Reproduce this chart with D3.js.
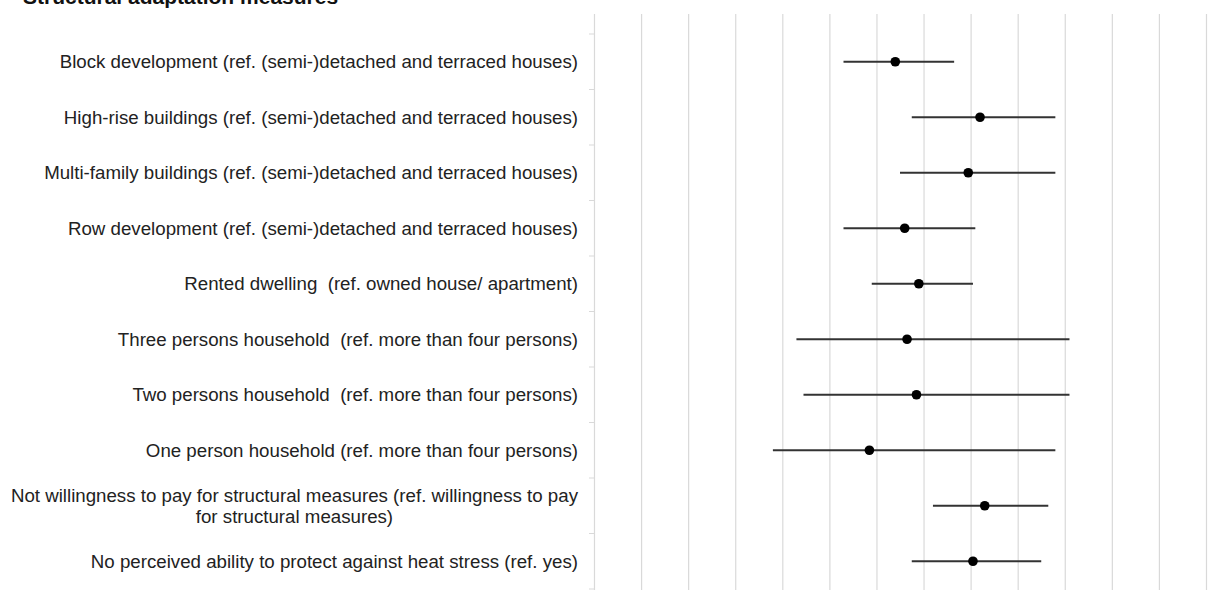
<!DOCTYPE html>
<html>
<head>
<meta charset="utf-8">
<script src="https://cdn.jsdelivr.net/npm/d3@7"></script>
<style>
  body { margin: 0; background: #fff; }
  svg { display: block; font-family: "Liberation Sans", Arial, sans-serif; }
  text { white-space: pre; }
</style>
</head>
<body>
<script>
// categories, top to bottom
const labels = [
  "Block development (ref. (semi-)detached and terraced houses)",
  "High-rise buildings (ref. (semi-)detached and terraced houses)",
  "Multi-family buildings (ref. (semi-)detached and terraced houses)",
  "Row development (ref. (semi-)detached and terraced houses)",
  "Rented dwelling  (ref. owned house/ apartment)",
  "Three persons household  (ref. more than four persons)",
  "Two persons household  (ref. more than four persons)",
  "One person household (ref. more than four persons)",
  "Not willingness to pay for structural measures (ref. willingness to pay|for structural measures)",
  "No perceived ability to protect against heat stress (ref. yes)"
];
// estimates and confidence bounds
const estimates = [1.28, 1.64, 1.59, 1.32, 1.38, 1.33, 1.37, 1.17, 1.66, 1.61];
const lower     = [1.06, 1.35, 1.30, 1.06, 1.18, 0.86, 0.89, 0.76, 1.44, 1.35];
const upper     = [1.53, 1.96, 1.96, 1.62, 1.61, 2.02, 2.02, 1.96, 1.93, 1.90];
const gridTicks = d3.range(0, 2.61, 0.2);
const title = "Structural adaptation measures";

const W = 1217, H = 590;
const svg = d3.select("body").append("svg").attr("width", W).attr("height", H);

const x = d3.scaleLinear().domain([0, 2.6]).range([594, 1206]);
const y = d3.scaleBand().domain(labels).range([34, 589]).padding(0);

// title (cut off at the top edge, as in the source)
svg.append("text")
  .attr("x", 23).attr("y", 4)
  .attr("font-size", 21).attr("font-weight", "bold")
  .attr("fill", "#111")
  .text(title);

// vertical gridlines
const grid = svg.append("g").attr("transform", "translate(0,14)")
  .call(d3.axisTop(x).tickValues(gridTicks).tickSize(-(H - 14)).tickFormat(""));
grid.select(".domain").remove();
grid.selectAll(".tick line").attr("stroke", "#d9d9d9").attr("stroke-width", 1.2);

// small ticks on the category axis, at band edges
const edges = labels.map(d => y(d)).concat([y.range()[1]]);
svg.append("g").selectAll("line").data(edges).enter().append("line")
  .attr("x1", x(0) - 5).attr("x2", x(0))
  .attr("y1", d => d).attr("y2", d => d)
  .attr("stroke", "#d9d9d9").attr("stroke-width", 1);

// category labels
const lab = svg.append("g").attr("font-size", 18.7).attr("fill", "#222");
labels.forEach((d, i) => {
  const cy = y(d) + y.bandwidth() / 2;
  const parts = d.split("|");
  if (parts.length === 1) {
    lab.append("text").attr("x", 578).attr("y", cy).attr("dy", "0.35em")
      .attr("text-anchor", "end").text(d);
  } else {
    const t1 = lab.append("text").attr("x", 578).attr("y", cy - 10.5).attr("dy", "0.35em")
      .attr("text-anchor", "end").text(parts[0]);
    const w = t1.node().getComputedTextLength();
    lab.append("text").attr("x", 578 - w / 2).attr("y", cy + 10.5).attr("dy", "0.35em")
      .attr("text-anchor", "middle").text(parts[1]);
  }
});

// confidence intervals and point estimates
const rows = labels.map((d, i) => ({ label: d, est: estimates[i], lo: lower[i], hi: upper[i] }));
const marks = svg.append("g");
marks.selectAll("line.ci").data(rows).enter().append("line")
  .attr("class", "ci")
  .attr("x1", d => x(d.lo)).attr("x2", d => x(d.hi))
  .attr("y1", d => y(d.label) + y.bandwidth() / 2)
  .attr("y2", d => y(d.label) + y.bandwidth() / 2)
  .attr("stroke", "#333").attr("stroke-width", 2);
marks.selectAll("circle").data(rows).enter().append("circle")
  .attr("cx", d => x(d.est))
  .attr("cy", d => y(d.label) + y.bandwidth() / 2)
  .attr("r", 4.8).attr("fill", "#000");
</script>
</body>
</html>
